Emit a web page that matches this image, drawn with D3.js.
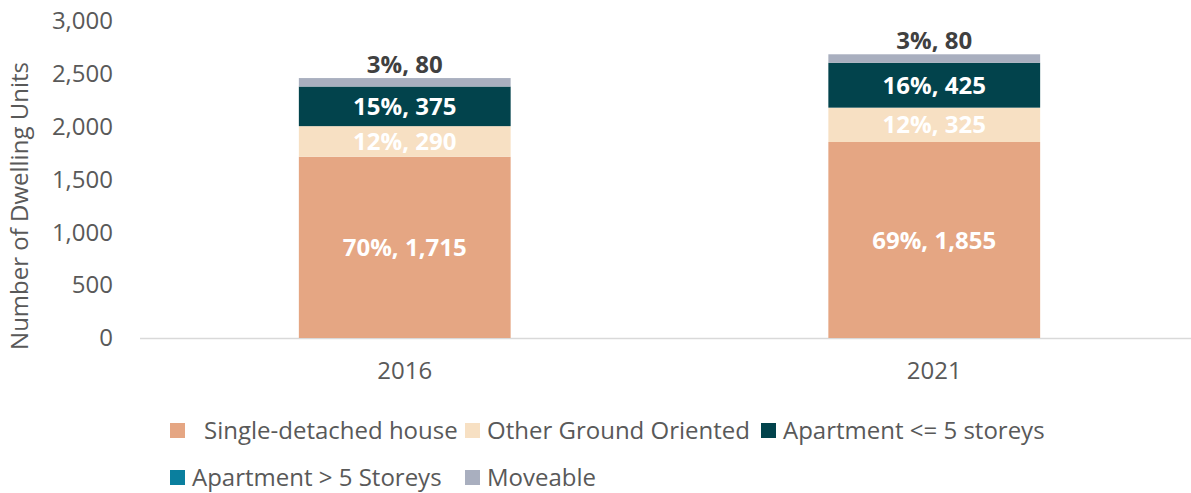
<!DOCTYPE html>
<html>
<head>
<meta charset="utf-8">
<script src="https://cdn.jsdelivr.net/npm/d3@7"></script>
<style>
  body { margin: 0; background: #fff; font-family: "Open Sans", sans-serif; }
  svg text { font-family: "Open Sans", sans-serif; }
</style>
</head>
<body>
<svg id="chart" width="1191" height="493"></svg>
<script>
const years = ['2016', '2021']
const types = ['Single-detached house', 'Other Ground Oriented', 'Apartment <= 5 storeys', 'Apartment > 5 Storeys', 'Moveable']
const single = [1715, 1855]
const otherGround = [290, 325]
const aptLow = [375, 425]
const aptHigh = [0, 0]
const moveable = [80, 80]
const pctLabels = [
    ['70%', '12%', '15%', '', '3%'],
    ['69%', '12%', '16%', '', '3%']
]
const yTicks = [0, 500, 1000, 1500, 2000, 2500, 3000]
const colors = ['#E5A683', '#F7E0C3', '#02434C', '#0A7F9E', '#A9AFBF']

const width = 1191, height = 493
const fontSize = 24
const svg = d3.select('#chart')

const rows = years.map((y, i) => ({
    year: y,
    'Single-detached house': single[i],
    'Other Ground Oriented': otherGround[i],
    'Apartment <= 5 storeys': aptLow[i],
    'Apartment > 5 Storeys': aptHigh[i],
    'Moveable': moveable[i]
}))

const stack = d3.stack().keys(types)(rows)

const xScale = d3.scaleBand()
    .domain(years)
    .range([140, 1199])
    .paddingInner(0.6)
    .paddingOuter(0.3)
const yScale = d3.scaleLinear()
    .domain([0, 3000])
    .range([338, 21])

// baseline
svg.append('line')
    .attr('x1', 140).attr('x2', width)
    .attr('y1', yScale(0) + 0.5).attr('y2', yScale(0) + 0.5)
    .attr('stroke', '#d9d9d9').attr('stroke-width', 1.5)

const yAxis = svg.append('g')
    .attr('transform', 'translate(116,0)')
    .call(d3.axisLeft(yScale).tickValues(yTicks).tickFormat(d3.format(',')).tickSize(0))
yAxis.select('.domain').remove()
yAxis.selectAll('text').attr('font-size', fontSize).attr('fill', '#595959')

const xAxis = svg.append('g')
    .attr('transform', 'translate(0,' + yScale(0) + ')')
    .call(d3.axisBottom(xScale).tickSize(0))
xAxis.select('.domain').remove()
xAxis.selectAll('text').attr('font-size', fontSize).attr('fill', '#595959').attr('dy', '1.6em')

svg.append('text')
    .attr('transform', 'translate(28,206) rotate(-90)')
    .attr('text-anchor', 'middle')
    .attr('font-size', fontSize)
    .attr('fill', '#595959')
    .text('Number of Dwelling Units')

const layer = svg.selectAll('g.layer')
    .data(stack)
    .enter()
    .append('g')
    .attr('class', 'layer')
    .attr('fill', (d, i) => colors[i])

layer.selectAll('rect')
    .data(d => d)
    .enter()
    .append('rect')
    .attr('x', d => xScale(d.data.year))
    .attr('width', xScale.bandwidth())
    .attr('y', d => yScale(d[1]))
    .attr('height', d => yScale(d[0]) - yScale(d[1]))

// value labels
stack.forEach((s, k) => {
    s.forEach((d, i) => {
        const v = d[1] - d[0]
        if (!v) return
        const top = k === types.length - 1
        svg.append('text')
            .attr('x', xScale(d.data.year) + xScale.bandwidth() / 2)
            .attr('y', top ? yScale(d[1]) - 5 : (yScale(d[0]) + yScale(d[1])) / 2)
            .attr('dy', top ? 0 : '0.36em')
            .attr('text-anchor', 'middle')
            .attr('font-size', fontSize)
            .attr('font-weight', 'bold')
            .attr('fill', top ? '#404040' : '#ffffff')
            .text(pctLabels[i][k] + ', ' + d3.format(',')(v))
    })
})

// legend
const legendPos = [
    { x: 170, y: 430, tx: 204 },
    { x: 465, y: 430, tx: 487 },
    { x: 761, y: 430, tx: 783 },
    { x: 170, y: 477, tx: 192 },
    { x: 465, y: 477, tx: 487 }
]
const legend = svg.selectAll('g.legend')
    .data(types)
    .enter()
    .append('g')
    .attr('class', 'legend')
legend.append('rect')
    .attr('x', (d, i) => legendPos[i].x)
    .attr('y', (d, i) => legendPos[i].y - 7)
    .attr('width', 15).attr('height', 15)
    .attr('fill', (d, i) => colors[i])
legend.append('text')
    .attr('x', (d, i) => legendPos[i].tx)
    .attr('y', (d, i) => legendPos[i].y)
    .attr('dy', '0.36em')
    .attr('font-size', fontSize)
    .attr('fill', '#595959')
    .text(d => d)
</script>
</body>
</html>
